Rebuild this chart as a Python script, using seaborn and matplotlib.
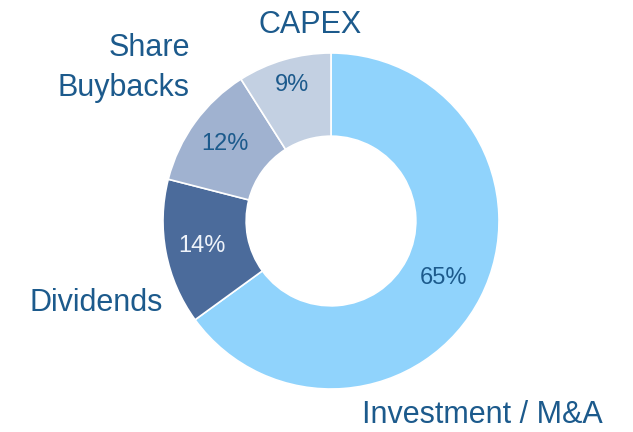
import matplotlib
matplotlib.use("Agg")
import matplotlib.pyplot as plt
import seaborn as sns
import numpy as np
from matplotlib import font_manager

categories = ["Investment / M&A", "Dividends", "Share\nBuybacks", "CAPEX"]
values = [65, 14, 12, 9]
pct_labels = ["65%", "14%", "12%", "9%"]
colors = ["#90d3fc", "#4b6b9b", "#a0b2d0", "#c3d0e2"]
pct_colors = ["#1c5a8c", "#eef3fa", "#1c5a8c", "#1c5a8c"]

sns.set_theme(style="white")
names = {f.name for f in font_manager.fontManager.ttflist}
fam = "Liberation Sans Narrow" if "Liberation Sans Narrow" in names else "Liberation Sans"
plt.rcParams["font.family"] = [fam, "DejaVu Sans"]

text_color = "#1c5a8c"
W, H = 633, 432
cx, cy, R = 331, 221, 168

fig = plt.figure(figsize=(W / 100, H / 100), dpi=100)
fig.patch.set_facecolor("white")
ax = fig.add_axes([(cx - R) / W, (H - cy - R) / H, 2 * R / W, 2 * R / H])

wedges, _ = ax.pie(values, colors=colors, startangle=90, counterclock=False,
                   radius=1.0, wedgeprops=dict(width=0.495, edgecolor="white", linewidth=1.2))
ax.set_xlim(-1, 1)
ax.set_ylim(-1, 1)
ax.axis("off")

cum = np.cumsum([0] + values[:-1])
dists = [0.75, 0.785, 0.78, 0.84]
for v, c0, lab, col, d in zip(values, cum, pct_labels, pct_colors, dists):
    ang = np.deg2rad(90 - (c0 + v / 2) / sum(values) * 360)
    ax.text(d * np.cos(ang), d * np.sin(ang), lab, ha="center", va="center",
            fontsize=17, color=col)

def px(x, y):
    return (x - cx) / R, (cy - y) / R

label_pos = [((362, 415), "left"), ((29, 303), "left"), ((190, 68), "right"), ((310, 25), "center")]
for lab, ((x, y), ha) in zip(categories, label_pos):
    dx, dy = px(x, y)
    ax.text(dx, dy, lab, ha=ha, va="center", fontsize=22, color=text_color,
            multialignment=ha, linespacing=1.4, clip_on=False)

fig.savefig("out.png", dpi=100, facecolor="white")
